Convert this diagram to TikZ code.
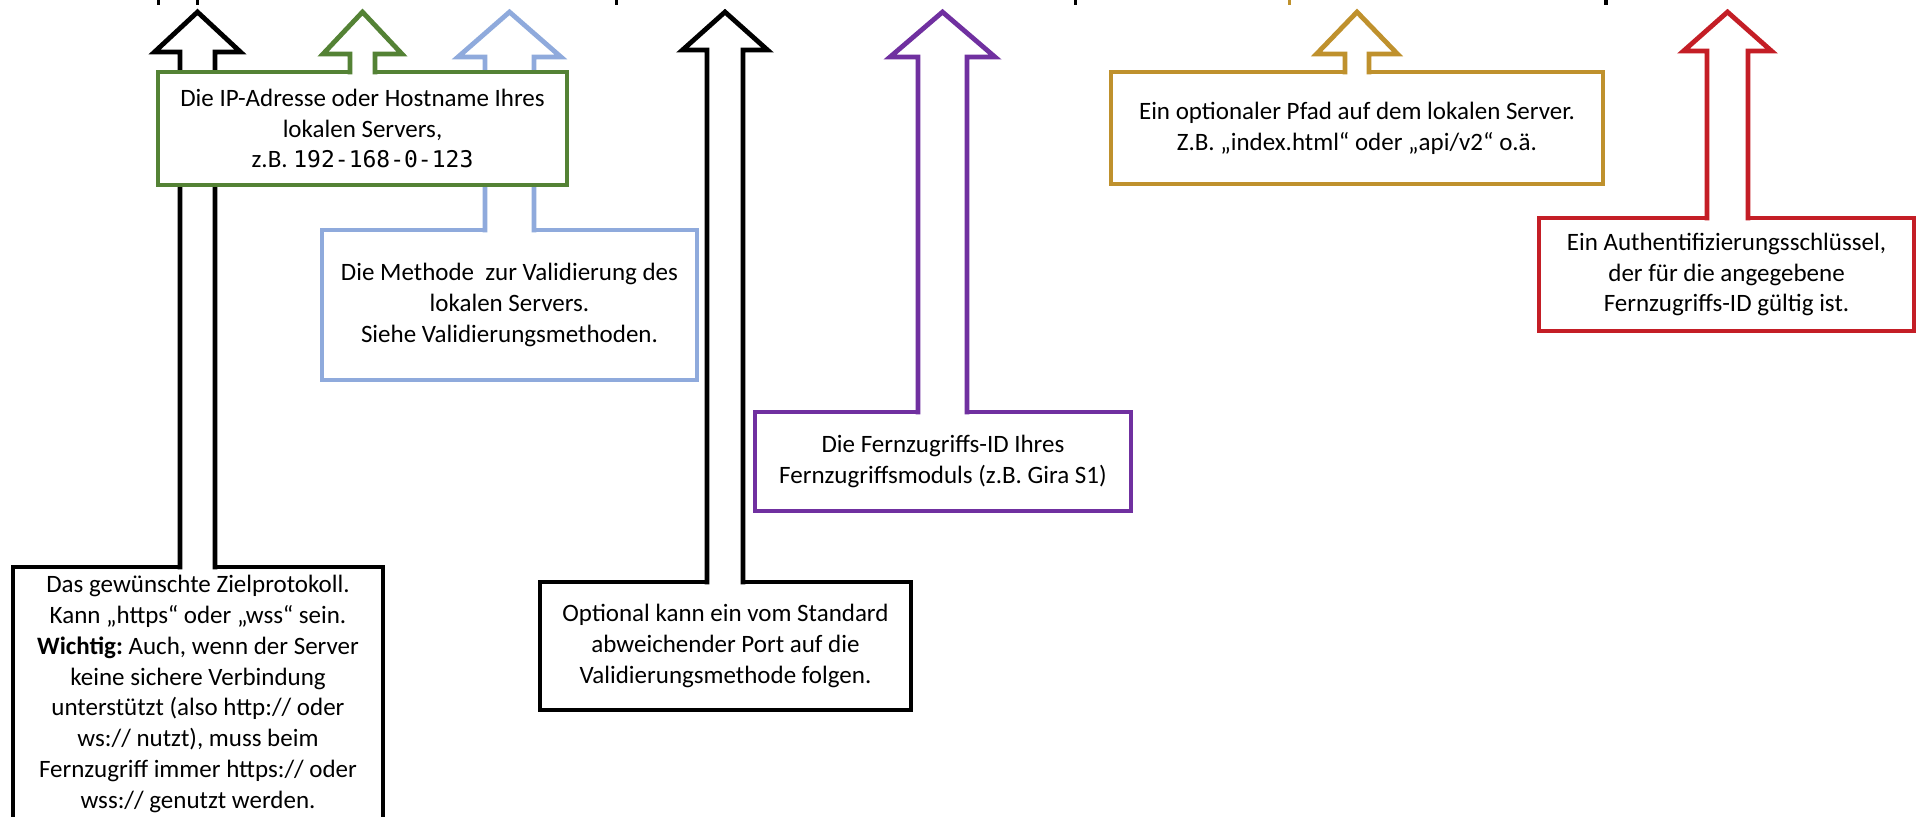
\documentclass[tikz,border=0pt]{standalone}
\usepackage{fontspec}
\setmainfont{Carlito}
\setmonofont[Scale=0.92]{DejaVu Sans Mono}
\usetikzlibrary{calc}
\frenchspacing
\definecolor{cgreen}{HTML}{548235}
\definecolor{cblue}{HTML}{8FAADC}
\definecolor{cpurple}{HTML}{7030A0}
\definecolor{cgold}{RGB}{191,145,45}
\definecolor{cred}{RGB}{196,30,38}
% #1 colour, #2 box node, #3 tip coordinate, #4 shaft half width, #5 head half width, #6 head height (px)
\newcommand{\blockarrow}[6]{%
  \fill[white] ($(#3 |- #2.north)+(-#4,3)$) -- ($(#3)+(-#4,#6)$) -- ($(#3)+(-#5,#6)$) -- (#3)
     -- ($(#3)+(#5,#6)$) -- ($(#3)+(#4,#6)$) -- ($(#3 |- #2.north)+(#4,3)$) -- cycle;
  \draw[arrowline, draw=#1] ($(#3 |- #2.north)+(-#4,2.4)$) -- ($(#3)+(-#4,#6)$) -- ($(#3)+(-#5,#6)$) -- (#3)
     -- ($(#3)+(#5,#6)$) -- ($(#3)+(#4,#6)$) -- ($(#3 |- #2.north)+(#4,2.4)$);
}
\tikzset{
  box/.style={draw, line width=2.4pt, fill=white, inner sep=0pt, outer sep=0pt,
    align=center, miter limit=10, font=\fontsize{12.5}{15.4}\selectfont\frenchspacing},
  arrowline/.style={line width=2.4pt, line join=miter, miter limit=10},
  frag/.style={fill=#1}
}
\begin{document}
\begin{tikzpicture}[x=0.5pt,y=-0.5pt]
\useasboundingbox (0,0) rectangle (1916,816);
\clip (0,0) rectangle (1916,816);
\fill[white] (0,0) rectangle (1916,816);

% cropped glyph fragments at the top edge
\fill[frag=black] (157,0) rectangle (160,5);
\fill[frag=black] (196,0) rectangle (199,5);
\fill[frag=black] (615,0) rectangle (618,5);
\fill[frag=black] (1074,0) rectangle (1077,5);
\fill[frag=cgold] (1288,0) rectangle (1291,5);
\fill[frag=black] (1604,0) rectangle (1608,5);

% tips
\coordinate (tProto) at (197.5,12);
\coordinate (tIP) at (362.5,12);
\coordinate (tVal) at (509.5,12);
\coordinate (tPort) at (725,12);
\coordinate (tRid) at (942.5,12);
\coordinate (tPath) at (1357,12);
\coordinate (tKey) at (1727.5,12);

% protocol
\node[box, draw=black, minimum width=185pt, minimum height=127pt] (proto) at (198,694)
  {Das gewünschte Zielprotokoll.\\Kann „https“ oder „wss“ sein.\\\textbf{Wichtig:} Auch, wenn der Server\\keine sichere Verbindung\\unterstützt (also http:// oder\\ws:// nutzt), muss beim\\Fernzugriff immer https:// oder\\wss:// genutzt werden.};
\blockarrow{black}{proto}{tProto}{17.5}{43}{40}

% validation
\node[box, draw=cblue, minimum width=187.5pt, minimum height=75pt] (val) at (509.5,305)
  {Die Methode\ \ zur Validierung des\\lokalen Servers.\\Siehe Validierungsmethoden.};
\blockarrow{cblue}{val}{tVal}{24.5}{51.5}{45}

% ip
\node[box, draw=cgreen, minimum width=204.5pt, minimum height=56.5pt] (ip) at (362.5,128.5)
  {Die IP-Adresse oder Hostname Ihres\\lokalen Servers,\\z.B. \texttt{192-168-0-123}};
\blockarrow{cgreen}{ip}{tIP}{12.5}{39.5}{42}

% port
\node[box, draw=black, minimum width=185.5pt, minimum height=64pt] (port) at (725.5,646)
  {Optional kann ein vom Standard\\abweichender Port auf die\\Validierungsmethode folgen.};
\blockarrow{black}{port}{tPort}{18}{42.5}{38}

% remote id
\node[box, draw=cpurple, minimum width=188pt, minimum height=49.5pt] (rid) at (943,461.5)
  {Die Fernzugriffs-ID Ihres\\Fernzugriffsmoduls (z.B. Gira S1)};
\blockarrow{cpurple}{rid}{tRid}{24.5}{52.5}{45}

% path
\node[box, draw=cgold, minimum width=246pt, minimum height=56pt] (path) at (1357,128)
  {Ein optionaler Pfad auf dem lokalen Server.\\Z.B. „index.html“ oder „api/v2“ o.ä.};
\blockarrow{cgold}{path}{tPath}{12}{40.5}{42}

% key
\node[box, draw=cred, minimum width=187.5pt, minimum height=56.5pt] (key) at (1726.5,274.5)
  {Ein Authentifizierungsschlüssel,\\der für die angegebene\\Fernzugriffs-ID gültig ist.};
\blockarrow{cred}{key}{tKey}{20.5}{44}{39}
\end{tikzpicture}
\end{document}
